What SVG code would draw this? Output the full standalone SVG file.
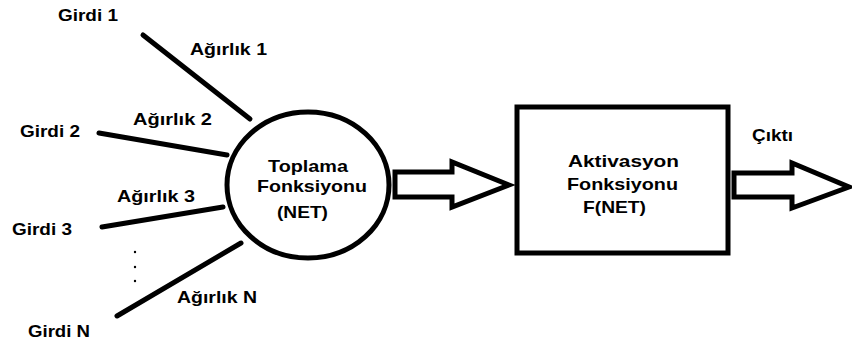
<svg xmlns="http://www.w3.org/2000/svg" width="852" height="345" viewBox="0 0 852 345">
<style>
text{font-family:"Liberation Sans",Arial,sans-serif;font-weight:bold;font-size:17px;fill:#000}
.ln{stroke:#000;stroke-width:5;stroke-linecap:round;fill:none}
.shape{stroke:#000;stroke-width:5;fill:#fff;stroke-linejoin:miter}
</style>
<rect width="852" height="345" fill="#fff"/>
<g id="connectors">
<line class="ln" x1="143" y1="35" x2="250" y2="119"/>
<line class="ln" x1="99" y1="133" x2="227" y2="155"/>
<line class="ln" x1="102" y1="227" x2="223" y2="207"/>
<line class="ln" x1="117" y1="316" x2="241" y2="243"/>
<polygon class="shape" points="395,172 452,172 452,162 509,185 452,207 452,197 395,197"/>
<polygon class="shape" points="734,173 792,173 792,163 849,187 792,208 792,197 734,197"/>
<circle cx="135" cy="252" r="1.2" fill="#000"/>
<circle cx="135" cy="267" r="1.2" fill="#000"/>
<circle cx="135" cy="281" r="1.2" fill="#000"/>
</g>
<g id="inputs">
<text x="58" y="21" textLength="60" lengthAdjust="spacingAndGlyphs">Girdi 1</text>
<text x="20" y="137" textLength="60" lengthAdjust="spacingAndGlyphs">Girdi 2</text>
<text x="12" y="235" textLength="60" lengthAdjust="spacingAndGlyphs">Girdi 3</text>
<text x="28" y="337" textLength="62" lengthAdjust="spacingAndGlyphs">Girdi N</text>
</g>
<g id="weights">
<text x="190" y="55" textLength="77" lengthAdjust="spacingAndGlyphs">Ağırlık 1</text>
<text x="133" y="125" textLength="79" lengthAdjust="spacingAndGlyphs">Ağırlık 2</text>
<text x="117" y="202" textLength="78" lengthAdjust="spacingAndGlyphs">Ağırlık 3</text>
<text x="177" y="303" textLength="80" lengthAdjust="spacingAndGlyphs">Ağırlık N</text>
</g>
<g id="sum">
<ellipse class="shape" cx="308" cy="185" rx="81" ry="73"/>
<text x="268" y="172" textLength="80" lengthAdjust="spacingAndGlyphs">Toplama</text>
<text x="257" y="192" textLength="110" lengthAdjust="spacingAndGlyphs">Fonksiyonu</text>
<text x="277" y="218" textLength="51" lengthAdjust="spacingAndGlyphs">(NET)</text>
</g>
<g id="activation">
<rect class="shape" x="517" y="107" width="211" height="146" stroke-width="6"/>
<text x="568" y="167" textLength="111" lengthAdjust="spacingAndGlyphs">Aktivasyon</text>
<text x="567" y="190" textLength="111" lengthAdjust="spacingAndGlyphs">Fonksiyonu</text>
<text x="583" y="213" textLength="63" lengthAdjust="spacingAndGlyphs">F(NET)</text>
</g>
<g id="output">
<text x="752" y="141" textLength="41" lengthAdjust="spacingAndGlyphs">Çıktı</text>
</g>
</svg>
